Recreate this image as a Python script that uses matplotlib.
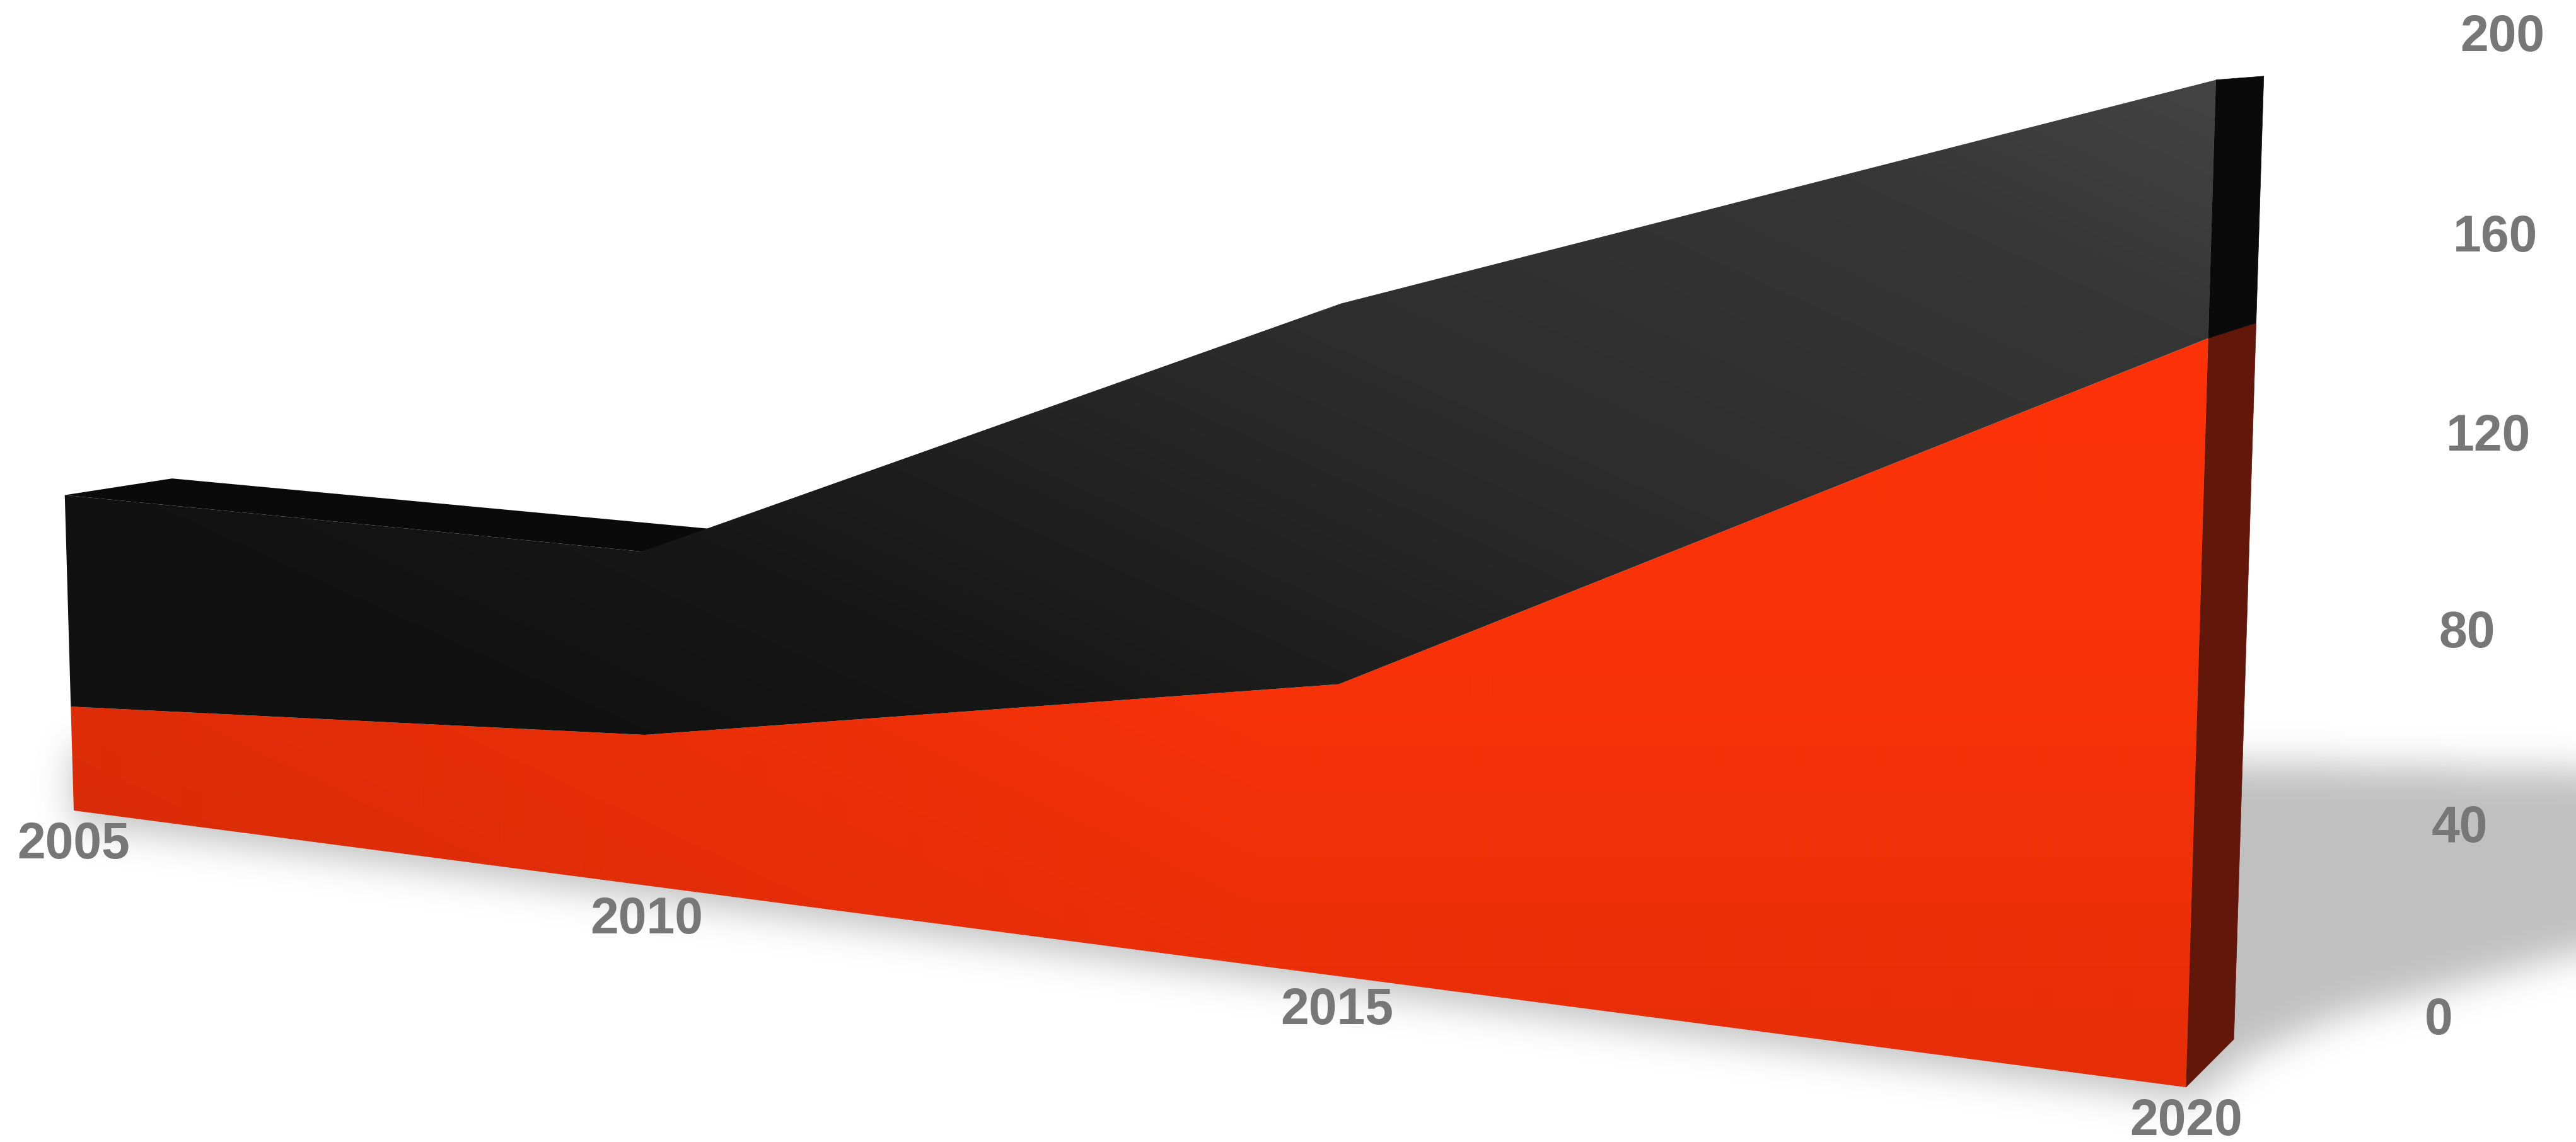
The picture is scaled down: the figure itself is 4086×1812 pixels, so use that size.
import numpy as np
import matplotlib
matplotlib.use("Agg")
import matplotlib.pyplot as plt
from matplotlib.path import Path
from matplotlib.patches import PathPatch

years = [2005, 2010, 2015, 2020]
red_values = [27.5, 36.5, 64, 146]
black_values = [55.5, 44, 82, 49]
y_ticks = [0, 40, 80, 120, 160, 200]

W, H = 4087, 1812

# camera calibration: (year, value, depth) -> picture pixel
anchors_3d = [(2005, 0, 0), (2010, 0, 0), (2015, 0, 0), (2020, 0, 0),
              (2005, 83, 0), (2020, 195, 0),
              (2020, 0, 1), (2020, 195, 1), (2005, 83, 1)]
anchors_px = [(119, 1287), (1024, 1405), (2119, 1548), (3469, 1725),
              (102, 785), (3515, 127),
              (3543, 1649), (3591, 121), (273, 759)]


def fit_camera(pts3, pts2):
    rows = []
    for (a, b, c), (u, v) in zip(pts3, pts2):
        a, b = (a - 2005) / 15, b / 200
        u, v = u / W, v / H
        rows.append([a, b, c, 1, 0, 0, 0, 0, -u * a, -u * b, -u * c, -u])
        rows.append([0, 0, 0, 0, a, b, c, 1, -v * a, -v * b, -v * c, -v])
    _, _, vt = np.linalg.svd(np.array(rows))
    return vt[-1].reshape(3, 4)


camera = fit_camera(anchors_3d, anchors_px)


def project(year, value, depth=0):
    year = np.asarray(year, dtype=float)
    value = np.asarray(value, dtype=float)
    p = np.stack([(year - 2005) / 15, value / 200, np.full(year.shape, float(depth)), np.ones(year.shape)])
    q = camera @ p
    return np.stack([q[0] / q[2] * W, q[1] / q[2] * H], axis=-1)


def poly_path(pts):
    return Path(np.vstack([pts, pts[:1]]), closed=True)


def red_ramp(xx, yy):
    # almost vertical, with a darker left part
    r = np.interp(yy, [600, 1000, 1400, 1700], [254, 250, 239, 230])
    r = r - 26 * np.clip(1 - xx / 2000, 0, 1)
    return np.dstack([r, r * 0.2, np.full(r.shape, 8.0)]) / 255


def black_ramp(xx, yy):
    u = 0.5 * xx / 3500 + 0.5 * (1725 - yy) / 1600
    g = np.interp(u, [0.3, 0.42, 0.51, 0.68, 0.87, 1.0], [17, 22, 30, 46, 54, 68])
    return np.dstack([g, g, g]) / 255


fig = plt.figure(figsize=(W / 100, H / 100), dpi=100)
ax = fig.add_axes([0, 0, 1, 1])
ax.set_xlim(0, W)
ax.set_ylim(H, 0)
ax.axis("off")

# floor shadow, blurred in a coarse grid
step = 4
gx, gy = np.meshgrid(np.arange(-400, W + 400, step), np.arange(-400, H + 400, step))
floor = [(115, 1180), (3400, 1205), (4300, 1225), (4300, 1470), (4087, 1510), (3900, 1560),
         (3709, 1610), (3562, 1675), (3480, 1745), (115, 1303)]
mask = Path(floor).contains_points(np.c_[gx.ravel(), gy.ravel()]).reshape(gx.shape).astype(float)
fy = np.fft.fftfreq(mask.shape[0])
fx = np.fft.rfftfreq(mask.shape[1])
sigma = 29 / step
kernel = np.exp(-2 * np.pi ** 2 * sigma ** 2 * (fy[:, None] ** 2 + fx[None, :] ** 2))
blurred = np.fft.irfft2(np.fft.rfft2(mask) * kernel, s=mask.shape)
shadow = np.zeros(mask.shape + (4,))
shadow[..., 3] = np.clip(blurred, 0, 1) * 0.25
ax.imshow(shadow, extent=(-400, W + 400, H + 400, -400), origin="upper", interpolation="bilinear", aspect="auto", zorder=1)

totals = np.add(red_values, black_values)
zero = np.zeros(len(years))

# top face between 2005 and 2010, only part that shows
top_face = np.vstack([project(years[:2], totals[:2], 0), project(years[:2], totals[:2], 1)[::-1]])
ax.add_patch(PathPatch(poly_path(top_face), fc="#0a0a0a", ec="none", zorder=2))

# right end of the block
last = [years[-1]]
for low, high, col in [([0], [red_values[-1]], "#62170a"), ([red_values[-1]], [totals[-1]], "#0a0a0a")]:
    side = np.vstack([project(last, low, 0), project(last, low, 1), project(last, high, 1), project(last, high, 0)])
    ax.add_patch(PathPatch(poly_path(side), fc=col, ec=col, lw=0.5, zorder=2))

# front faces with their gradients
xx, yy = np.meshgrid(np.arange(0, W, 2) + 1.0, np.arange(0, H, 2) + 1.0)
faces = [(zero, np.array(red_values), red_ramp), (np.array(red_values), totals, black_ramp)]
for low, high, ramp in faces:
    pts = np.vstack([project(years, low), project(years, high)[::-1]])
    im = ax.imshow(ramp(xx, yy), extent=(0, W, H, 0), origin="upper", aspect="auto", interpolation="bilinear", zorder=3)
    patch = PathPatch(poly_path(pts), transform=ax.transData, fc="none", ec="none")
    ax.add_patch(patch)
    im.set_clip_path(patch)

ax.set_xlim(0, W)
ax.set_ylim(H, 0)

label_style = dict(family="Liberation Sans", fontweight="bold", fontsize=58, color="#777777", zorder=5)
for yr in years:
    px = project([yr], [0], 0)[0]
    ax.text(px[0], px[1] + 55, str(yr), ha="center", va="center", **label_style)
for val in y_ticks:
    py = project([years[-1]], [val], 1)[0][1]
    ax.text(3846 + 0.28 * val, py - 29 + 0.04 * val, str(val), ha="left", va="center", **label_style)

fig.savefig("out.png", dpi=100, facecolor="white")
